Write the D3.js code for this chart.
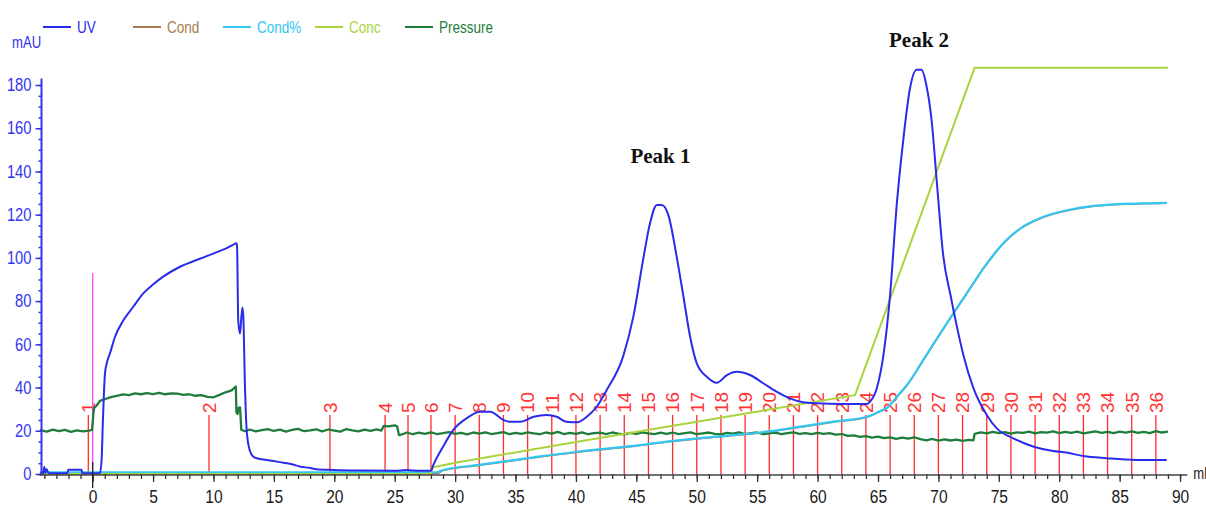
<!DOCTYPE html>
<html>
<head>
<meta charset="utf-8">
<script src="https://cdn.jsdelivr.net/npm/d3@7"></script>
<style>
  html, body { margin: 0; padding: 0; background: #fff; }
  svg { display: block; }
</style>
</head>
<body>
<svg id="chart" width="1206" height="510" font-family="Liberation Sans, Arial, sans-serif"></svg>
<script>
// ---- Chromatogram run data (volume in ml) ----
const seriesNames = ["UV", "Cond", "Cond%", "Conc", "Pressure"];
const seriesColors = ["#2b2bea", "#a87a4e", "#33c6f2", "#a8d43c", "#1f7d3c"];

// UV absorbance, [ml, mAU]
const uvTrace = [
  [-4.35, 0.4], [-4.1, 0.4], [-4.0, 3.2], [-3.92, 0.6], [-3.8, 2.2], [-3.65, 0.4],
  [-2.1, 0.4], [-2.02, 2.0], [-0.92, 2.0], [-0.86, 0.4], [0.6, 0.4], [0.74, 6.5],
  [0.85, 25], [1.02, 46.6], [1.2, 52], [1.43, 55.8], [1.85, 63.5], [2.53, 71],
  [3.36, 77.4], [4.19, 83.6], [5.0, 87.7], [5.84, 91.3], [7.23, 95.9], [8.6, 99],
  [9.98, 102], [11.0, 104.3], [11.6, 106], [11.9, 106.8], [11.95, 105.5], [12.05, 71],
  [12.2, 65], [12.3, 72], [12.4, 77], [12.47, 72.8], [12.6, 42], [12.75, 20],
  [13.0, 11], [13.3, 8], [13.6, 7.3], [14.4, 6.5], [15.5, 5.5], [16.5, 4.5],
  [17.2, 3.4], [18.0, 2.8], [18.5, 2.2], [19.9, 1.85], [22, 1.6], [25, 1.5],
  [26, 1.8], [27, 1.5], [28, 1.5], [28.2, 4.2], [29, 12.6], [29.85, 20.4],
  [30.96, 25.8], [32.06, 28.8], [32.9, 28.8], [34, 25], [34.5, 24.2], [35.4, 24.2],
  [36.5, 26.5], [37.6, 27.3], [38.4, 26.5], [39.2, 24.2], [40.1, 23.9], [40.9, 26.5],
  [41.7, 31], [42.55, 38.9], [43.9, 54.3], [44.75, 72.8], [45.6, 100.5], [46.13, 116],
  [46.7, 124.5], [47.1, 124.5], [47.65, 119.8], [48.34, 100.5], [48.9, 82], [49.45, 63.5],
  [50.0, 51.2], [50.83, 45], [51.66, 42.2], [52.5, 45.8], [53.3, 47.3], [54.4, 45.8],
  [55.5, 42], [56.6, 38.1], [57.7, 35], [58.8, 33.2], [59.9, 32.7], [62.0, 32.4],
  [64.1, 32.4], [64.35, 33.5], [64.9, 39.7], [65.45, 55], [66.0, 82.8], [66.55, 124.5],
  [67.1, 155], [67.65, 178.5], [68.2, 187], [68.6, 187], [69.0, 180], [69.45, 163],
  [69.87, 135], [70.4, 101], [71.0, 82.8], [71.5, 69], [72.07, 55], [72.9, 39.7],
  [74.0, 27.3], [74.83, 21.1], [76.2, 16.5], [77.9, 12.6], [79.5, 10.6], [80.6, 9.9],
  [82.0, 8.3], [83.9, 7.3], [86.4, 6.5], [88.9, 6.5]
];

// Conductivity (%), [ml, value]
const condPctTrace = [
  [-4.35, 0.8], [28.5, 0.8], [29, 1.85], [32, 4.2], [36.5, 7.7], [40.1, 10.3],
  [44.75, 13], [47.5, 15], [51.65, 17.3], [55.8, 19.6], [58.6, 21.9], [61.3, 24.2],
  [64.1, 26.5], [65.2, 29.2], [65.7, 30.5], [66.3, 34], [66.8, 37.3], [67.4, 41.2],
  [68.75, 52.8], [70.7, 69.8], [72.9, 88.3], [73.7, 95], [74.5, 101], [75.4, 107],
  [76.8, 113.7], [78.7, 119], [81.5, 123], [84.5, 124.8], [88.9, 125.5]
];

// Conductivity, [ml, value] (runs just under Cond%)
const condTrace = [
  [-4.35, 0.2], [28.5, 0.2], [29, 1.6], [32, 4.0], [36.5, 7.5], [40.1, 10.1],
  [44.75, 12.8], [47.5, 14.8], [51.65, 17.1], [55.8, 19.4], [58.6, 21.7], [61.3, 24.0],
  [64.1, 26.3], [65.2, 29.0], [65.7, 30.3], [66.3, 33.8], [66.8, 37.1], [67.4, 41.0],
  [68.75, 52.6], [70.7, 69.6], [72.9, 88.1], [73.7, 94.8], [74.5, 100.8], [75.4, 106.8],
  [76.8, 113.5], [78.7, 118.8], [81.5, 122.8], [84.5, 124.6], [88.9, 125.3]
];

// Gradient concentration, [ml, value]
const concTrace = [
  [-4.35, 0], [28, 0], [28.1, 3.0], [30, 5.2], [40, 14.8], [50, 24.2],
  [60, 33.6], [63.1, 36.5], [73, 188], [89, 188]
];

// System pressure, [ml, value]
const pressureTrace = [
  [-4.35, 20.3], [-3.8, 19.6], [-3.3, 20.5], [-2.8, 19.8], [-2.3, 20.4], [-1.8, 19.5],
  [-1.3, 20.2], [-0.8, 19.7], [-0.3, 20.1], [-0.05, 20.4], [0.1, 30.5], [0.3, 31.5],
  [0.6, 33.8], [1.0, 34.6], [1.5, 35.6], [2.0, 36.2], [2.5, 36.8], [3.0, 36.5],
  [3.5, 37.3], [4.0, 36.9], [4.5, 37.4], [5.0, 37.0], [5.5, 37.5], [6.0, 36.9],
  [6.5, 37.3], [7.0, 37.2], [7.5, 36.6], [8.0, 36.9], [8.5, 36.2], [9.0, 36.5],
  [9.5, 35.7], [10.0, 35.5], [10.5, 36.6], [11.0, 37.8], [11.5, 38.7], [11.85, 40.5],
  [11.9, 28.5], [12.0, 27.8], [12.05, 30.5], [12.2, 30.8], [12.3, 20.5], [12.6, 19.8],
  [13.0, 20.6], [13.5, 19.7], [14.0, 20.3], [14.5, 20.8], [15.0, 19.9], [15.5, 20.5],
  [16.0, 19.6], [16.5, 20.4], [17.0, 20.9], [17.5, 19.8], [18.0, 20.2], [18.5, 20.7],
  [19.0, 19.7], [19.5, 20.6], [20.0, 20.1], [20.5, 19.6], [21.0, 20.8], [21.5, 20.2],
  [22.0, 19.7], [22.5, 20.5], [23.0, 20.0], [23.5, 20.6], [23.9, 20.1], [24.1, 22.3],
  [24.5, 22.0], [25.0, 22.5], [25.2, 22.1], [25.35, 18.0], [25.6, 18.3], [26.0, 19.2],
  [26.5, 18.4], [27.0, 19.1], [27.5, 18.6], [28.0, 19.3], [28.5, 18.5], [29.0, 18.9],
  [29.5, 19.4], [30.0, 18.6], [30.5, 19.0], [31.0, 18.3], [31.5, 19.2], [32.0, 18.7],
  [32.5, 19.3], [33.0, 18.5], [33.5, 18.9], [34.0, 19.4], [34.5, 18.4], [35.0, 19.0],
  [35.5, 18.6], [36.0, 19.3], [36.5, 18.8], [37.0, 18.4], [37.5, 19.2], [38.0, 18.7],
  [38.5, 19.5], [39.0, 18.5], [39.5, 19.0], [40.0, 18.6], [40.5, 19.3], [41.0, 18.4],
  [41.5, 18.9], [42.0, 19.1], [42.5, 18.5], [43.0, 19.2], [43.5, 18.7], [44.0, 18.3],
  [44.5, 19.0], [45.0, 18.6], [45.5, 19.3], [46.0, 18.8], [46.5, 18.4], [47.0, 19.1],
  [47.5, 18.6], [48.0, 19.2], [48.5, 18.5], [49.0, 18.9], [49.5, 19.3], [50.0, 18.4],
  [50.5, 18.8], [51.0, 19.2], [51.5, 18.6], [52.0, 18.3], [52.5, 19.0], [53.0, 18.7],
  [53.5, 19.3], [54.0, 18.5], [54.5, 18.9], [55.0, 19.2], [55.5, 18.4], [56.0, 18.8],
  [56.5, 19.1], [57.0, 18.5], [57.5, 18.9], [58.0, 19.3], [58.5, 18.6], [59.0, 18.9],
  [59.5, 18.4], [60.0, 19.0], [60.5, 18.6], [61.0, 18.9], [61.5, 18.2], [62.0, 18.5],
  [62.5, 17.6], [63.0, 17.9], [63.5, 17.2], [64.0, 17.5], [64.5, 16.8], [65.0, 17.3],
  [65.5, 16.6], [66.0, 16.9], [66.5, 16.2], [67.0, 16.8], [67.5, 16.4], [68.0, 17.0],
  [68.5, 16.1], [69.0, 15.6], [69.5, 16.2], [70.0, 15.4], [70.5, 16.0], [71.0, 15.5],
  [71.5, 15.9], [72.0, 15.3], [72.5, 15.8], [72.9, 15.6], [73.0, 18.6], [73.5, 19.3],
  [74.0, 18.8], [74.5, 19.5], [75.0, 18.9], [75.5, 19.4], [76.0, 18.7], [76.5, 19.3],
  [77.0, 19.0], [77.5, 19.6], [78.0, 18.8], [78.5, 19.4], [79.0, 19.1], [79.5, 19.7],
  [80.0, 18.9], [80.5, 19.5], [81.0, 19.0], [81.5, 19.6], [82.0, 18.8], [82.5, 19.3],
  [83.0, 19.7], [83.5, 19.0], [84.0, 19.5], [84.5, 18.9], [85.0, 19.6], [85.5, 19.1],
  [86.0, 19.7], [86.5, 19.0], [87.0, 19.5], [87.5, 18.9], [88.0, 19.8], [88.5, 19.2],
  [89.0, 19.6]
];

// Fraction collector marks
const fractionLabels = ["1", "2", "3", "4", "5", "6", "7", "8", "9", "10", "11", "12",
  "13", "14", "15", "16", "17", "18", "19", "20", "21", "22", "23", "24", "25", "26",
  "27", "28", "29", "30", "31", "32", "33", "34", "35", "36"];
const fractionVolumes = [-0.36, 9.63, 19.64, 24.2, 26.1, 28, 30, 32, 34, 36, 38, 40,
  42, 44, 46, 48, 50, 52, 54, 56, 58, 60, 62, 64, 66, 68, 70, 72, 74, 76, 78, 80,
  82, 84, 86, 88];

// Injection mark
const injectionVolume = 0;
const injectionHeight = 93;

// Peak annotations
const peakLabels = ["Peak 1", "Peak 2"];
const peakVolumes = [47.0, 68.4];
const peakHeights = [124.5, 188];

// Axis ticks
const xMajorTicks = [0, 5, 10, 15, 20, 25, 30, 35, 40, 45, 50, 55, 60, 65, 70, 75, 80, 85, 90];
const yMajorTicks = [0, 20, 40, 60, 80, 100, 120, 140, 160, 180];

// ---- Drawing ----
const svg = d3.select("#chart");
const NARROW = 0.82;  // horizontal squeeze for the instrument's condensed lettering

const x = d3.scaleLinear().domain([-4.4, 90.6]).range([39.5, 1187.3]);
const y = d3.scaleLinear().domain([0, 180]).range([474, 85]);

const linear = d3.line().x(d => x(d[0])).y(d => y(d[1]));
const smooth = d3.line().x(d => x(d[0])).y(d => y(d[1])).curve(d3.curveMonotoneX);

// squeeze a text element horizontally around its anchor point
function condense(sel) {
  sel.each(function () {
    const t = d3.select(this);
    const tx = +t.attr("x") || 0, ty = +t.attr("y") || 0;
    t.attr("x", 0).attr("y", 0)
      .attr("transform", `translate(${tx},${ty}) scale(${NARROW},1)`);
  });
}

// fraction markers
const frac = svg.append("g").attr("class", "fractions");
fractionVolumes.forEach((v, i) => {
  frac.append("line")
    .attr("x1", x(v)).attr("x2", x(v))
    .attr("y1", y(0)).attr("y2", y(0) - 59)
    .attr("stroke", "#ff2b2b").attr("stroke-width", 1.3);
  frac.append("text")
    .attr("transform", `translate(${x(v)},${y(0) - 61}) rotate(-90)`)
    .attr("dy", "0.36em")
    .attr("font-size", 19)
    .attr("fill", "#ff3434")
    .text(fractionLabels[i]);
});

// injection mark
svg.append("line")
  .attr("x1", x(injectionVolume)).attr("x2", x(injectionVolume))
  .attr("y1", y(0)).attr("y2", y(injectionHeight))
  .attr("stroke", "#ff44ff").attr("stroke-width", 1.3);

// curves, drawn back to front
const curves = [
  { data: pressureTrace, color: seriesColors[4], width: 2.3, gen: linear },
  { data: condTrace, color: seriesColors[1], width: 1.6, gen: smooth },
  { data: condPctTrace, color: seriesColors[2], width: 2.2, gen: smooth },
  { data: concTrace, color: seriesColors[3], width: 2, gen: linear },
  { data: uvTrace, color: seriesColors[0], width: 2, gen: smooth }
];
curves.forEach(c => {
  svg.append("path")
    .datum(c.data)
    .attr("d", c.gen)
    .attr("fill", "none")
    .attr("stroke", c.color)
    .attr("stroke-width", c.width)
    .attr("stroke-linejoin", "round");
});

// y axis (blue)
const yBlue = "#3434ee";
const yMinor = svg.append("g").attr("transform", `translate(${x.range()[0] + 2},0)`)
  .call(d3.axisLeft(y).tickValues(d3.range(0, 185, 5)).tickSize(3).tickFormat(""));
const yAxis = svg.append("g").attr("transform", `translate(${x.range()[0] + 2},0)`)
  .call(d3.axisLeft(y).tickValues(yMajorTicks).tickSize(6).tickPadding(4));
[yMinor, yAxis].forEach(g => {
  g.attr("font-family", null);
  g.select(".domain").remove();
  g.selectAll("line").attr("stroke", yBlue).attr("stroke-width", 1.5);
});
yAxis.attr("font-size", 18);
yAxis.selectAll("text")
  .attr("fill", yBlue)
  .call(condense);
svg.append("line")
  .attr("x1", x.range()[0] + 2).attr("x2", x.range()[0] + 2)
  .attr("y1", y(0)).attr("y2", y(183))
  .attr("stroke", yBlue).attr("stroke-width", 2);

// x axis (dark)
const xMinor = svg.append("g").attr("transform", `translate(0,${y(0)})`)
  .call(d3.axisBottom(x).tickValues(d3.range(-4, 91, 1)).tickSize(5).tickFormat(""));
const xAxis = svg.append("g").attr("transform", `translate(0,${y(0)})`)
  .call(d3.axisBottom(x).tickValues(xMajorTicks).tickSize(8).tickPadding(8));
[xMinor, xAxis].forEach(g => {
  g.attr("font-family", null);
  g.select(".domain").remove();
  g.selectAll("line").attr("stroke", "#333").attr("stroke-width", 1.3);
});
xAxis.attr("font-size", 19);
xAxis.selectAll("text")
  .attr("fill", "#1a1a1a")
  .call(condense);
svg.append("line")
  .attr("x1", x.range()[0]).attr("x2", x.range()[1])
  .attr("y1", y(0) + 1).attr("y2", y(0) + 1)
  .attr("stroke", "#444").attr("stroke-width", 1.5);
svg.append("line")
  .attr("x1", x(0)).attr("x2", x(0))
  .attr("y1", y(0) - 12).attr("y2", y(0) + 14)
  .attr("stroke", "#222").attr("stroke-width", 1.3);

svg.append("text")
  .attr("x", x.range()[1] + 6).attr("y", y(0) + 5)
  .attr("font-size", 16).attr("fill", "#1a1a1a")
  .text("ml")
  .call(condense);

// unit label
svg.append("text")
  .attr("x", 12).attr("y", 48)
  .attr("font-size", 16).attr("fill", yBlue)
  .text("mAU")
  .call(condense);

// legend
const legendX = [43, 133, 223, 315, 405];
seriesNames.forEach((name, i) => {
  const g = svg.append("g").attr("transform", `translate(${legendX[i]},27)`);
  g.append("line").attr("x1", 0).attr("x2", 28).attr("y1", 0).attr("y2", 0)
    .attr("stroke", seriesColors[i]).attr("stroke-width", 2);
  g.append("text")
    .attr("x", 34).attr("y", 5.5)
    .attr("font-size", 16.5).attr("fill", seriesColors[i])
    .text(name)
    .call(condense);
});

// peak annotations
peakLabels.forEach((t, i) => {
  svg.append("text")
    .attr("x", x(peakVolumes[i]))
    .attr("y", y(peakHeights[i]) - 42 + (i === 1 ? 21 : 0))
    .attr("text-anchor", "middle")
    .attr("font-family", "Liberation Serif, 'Times New Roman', serif")
    .attr("font-weight", "bold")
    .attr("font-size", 21)
    .attr("fill", "#111")
    .text(t);
});
</script>
</body>
</html>
